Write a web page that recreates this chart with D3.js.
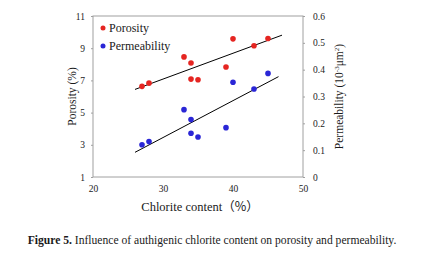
<!DOCTYPE html>
<html>
<head>
<meta charset="utf-8">
<script src="https://cdn.jsdelivr.net/npm/d3@7"></script>
<style>
  body { margin: 0; background: #fff; }
  .axis .domain { display: none; }
  .axis line { stroke: #a0a0a0; }
</style>
</head>
<body>
<div id="chart"></div>
<script>
// chlorite content (%) of each sample
let chloriteRed = [27, 28, 33, 34, 34, 35, 39, 40, 43, 45];
let porosity = [6.63, 6.83, 8.46, 8.08, 7.08, 7.04, 7.83, 9.58, 9.15, 9.6];

let chloriteBlue = [27, 28, 33, 34, 34, 35, 39, 40, 43, 45];
let permeability = [0.12, 0.132, 0.251, 0.214, 0.163, 0.149, 0.184, 0.353, 0.328, 0.386];

// trend lines: [x0, x1] and [y0, y1]
let porTrendX = [26, 47];
let porTrendY = [6.44, 9.81];
let permTrendX = [26, 46.5];
let permTrendY = [0.092, 0.374];

let xTicks = [20, 30, 40, 50];
let leftTicks = [1, 3, 5, 7, 9, 11];
let rightTicks = [0, 0.1, 0.2, 0.3, 0.4, 0.5, 0.6];

let serif = "'Liberation Serif', 'Times New Roman', Times, serif";

let margin = {top: 16, right: 118, bottom: 87, left: 93};
let width = 421 - margin.left - margin.right;
let height = 264 - margin.top - margin.bottom;

let svg = d3.select("#chart").append("svg")
    .attr("width", 421)
    .attr("height", 264);

let g = svg.append("g")
    .attr("transform", `translate(${margin.left}, ${margin.top})`);

let x = d3.scaleLinear().domain([20, 50]).range([0, width]);
let yL = d3.scaleLinear().domain([1, 11]).range([height, 0]);
let yR = d3.scaleLinear().domain([0, 0.6]).range([height, 0]);

// plot frame
g.append("rect")
    .attr("width", width)
    .attr("height", height)
    .attr("fill", "none")
    .attr("stroke", "#a0a0a0")
    .attr("stroke-width", 1);

// axes
g.append("g")
    .attr("class", "axis")
    .attr("transform", `translate(0, ${height})`)
    .call(d3.axisBottom(x).tickValues(xTicks).tickSize(0).tickPadding(8))
    .selectAll("text")
    .style("font-size", "9.5px");

g.append("g")
    .attr("class", "axis")
    .call(d3.axisLeft(yL).tickValues(leftTicks).tickSize(2).tickPadding(6))
    .selectAll("text")
    .style("font-size", "9.5px");

g.append("g")
    .attr("class", "axis")
    .attr("transform", `translate(${width}, 0)`)
    .call(d3.axisRight(yR).tickValues(rightTicks).tickSize(2).tickPadding(8)
        .tickFormat(d => d === 0 ? "0" : d3.format(".1f")(d)))
    .selectAll("text")
    .style("font-size", "9.5px");

// trend lines
g.append("line")
    .attr("x1", x(porTrendX[0])).attr("y1", yL(porTrendY[0]))
    .attr("x2", x(porTrendX[1])).attr("y2", yL(porTrendY[1]))
    .attr("stroke", "#000").attr("stroke-width", 1);

g.append("line")
    .attr("x1", x(permTrendX[0])).attr("y1", yR(permTrendY[0]))
    .attr("x2", x(permTrendX[1])).attr("y2", yR(permTrendY[1]))
    .attr("stroke", "#000").attr("stroke-width", 1);

// points
let red = "#e52521";
let blue = "#2a26d6";

g.selectAll(".por")
    .data(chloriteRed)
    .enter().append("circle")
    .attr("class", "por")
    .attr("cx", d => x(d))
    .attr("cy", (d, i) => yL(porosity[i]))
    .attr("r", 2.8)
    .attr("fill", red);

g.selectAll(".perm")
    .data(chloriteBlue)
    .enter().append("circle")
    .attr("class", "perm")
    .attr("cx", d => x(d))
    .attr("cy", (d, i) => yR(permeability[i]))
    .attr("r", 2.8)
    .attr("fill", blue);

// legend
let legend = g.append("g").attr("transform", "translate(10, 12)");
legend.append("circle").attr("cx", 0).attr("cy", 0).attr("r", 2.5).attr("fill", red);
legend.append("text").attr("x", 6).attr("y", 4).style("font-size", "12px").text("Porosity");
legend.append("circle").attr("cx", 0).attr("cy", 18).attr("r", 2.5).attr("fill", blue);
legend.append("text").attr("x", 6).attr("y", 22).style("font-size", "12px").text("Permeability");

// axis titles
svg.append("text")
    .attr("transform", `translate(76, ${margin.top + height / 2}) rotate(-90)`)
    .attr("text-anchor", "middle")
    .style("font-size", "11.5px")
    .text("Porosity (%)");

let rt = svg.append("text")
    .attr("transform", `translate(343, ${margin.top + height / 2}) rotate(-90)`)
    .attr("text-anchor", "middle")
    .style("font-size", "11.5px");
rt.append("tspan").text("Permeability (10");
rt.append("tspan").attr("dy", -4).style("font-size", "7px").text("-3");
rt.append("tspan").attr("dy", 4).text("μm");
rt.append("tspan").attr("dy", -4).style("font-size", "7px").text("2");
rt.append("tspan").attr("dy", 4).text(")");

let xt = svg.append("text")
    .attr("x", margin.left + width / 2 + 2)
    .attr("y", 211)
    .attr("text-anchor", "middle")
    .style("font-size", "12.5px");
xt.append("tspan").text("Chlorite  content");
xt.append("tspan").attr("class", "cjk").text("（%）");

// caption
let cap = svg.append("text")
    .attr("x", 212)
    .attr("y", 244)
    .attr("text-anchor", "middle")
    .style("font-size", "11.6px");
cap.append("tspan").style("font-weight", "bold").text("Figure 5.");
cap.append("tspan").text(" Influence of authigenic chlorite content on porosity and permeability.");

// serif everywhere, like the original figure
svg.selectAll("text, tspan")
    .style("font-family", serif)
    .style("fill", "#1a1a1a");
svg.selectAll(".cjk").style("font-family", "'Noto Sans CJK SC'");
</script>
</body>
</html>
